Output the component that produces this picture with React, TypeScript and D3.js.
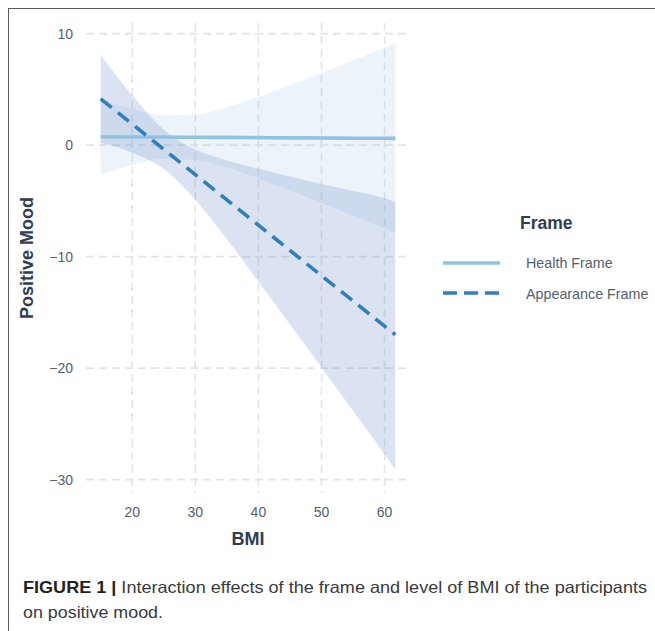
import React from "react";
import * as d3 from "d3";

const bmi = [15, 20, 25, 30, 35, 40, 45, 50, 55, 60, 61.7];

// Health Frame: fit and confidence band
const healthFit = [0.75, 0.73, 0.72, 0.7, 0.69, 0.67, 0.65, 0.64, 0.62, 0.61, 0.6];
const healthLow = [-2.65, -1.77, -1.23, -1.34, -2.02, -2.99, -4.07, -5.19, -6.34, -7.5, -7.91];
const healthHigh = [4.15, 3.23, 2.67, 2.74, 3.4, 4.33, 5.37, 6.47, 7.58, 8.72, 9.11];

// Appearance Frame: fit and confidence band
const appearFit = [4.15, 1.89, -0.38, -2.65, -4.91, -7.18, -9.44, -11.71, -13.97, -16.24, -17.0];
const appearLow = [0.2, -0.68, -2.14, -4.9, -8.45, -12.23, -16.06, -19.94, -23.83, -27.73, -29.1];
const appearHigh = [8.1, 4.46, 1.38, -0.4, -1.37, -2.13, -2.82, -3.48, -4.11, -4.75, -5.1];

const xTicks = [20, 30, 40, 50, 60];
const yTicks = [10, 0, -10, -20, -30];
const legendLabels = ["Health Frame", "Appearance Frame"];

const W = 655;
const H = 631;
const panel = { left: 86, right: 410, top: 23, bottom: 493 };

const font = "'Liberation Sans', Arial, Helvetica, sans-serif";
const tickColor = "#55606e";
const titleColor = "#2e3d52";
const healthColor = "#92c2e2";
const appearColor = "#2f7fbc";

const App = () => {
  const x = d3.scaleLinear().domain([12.67, 64.03]).range([panel.left, panel.right]);
  const y = d3.scaleLinear().domain([-31.2, 10.95]).range([panel.bottom, panel.top]);

  const idx = d3.range(bmi.length);

  const area = (lo: number[], hi: number[]) =>
    d3
      .area<number>()
      .x((i) => x(bmi[i]))
      .y0((i) => y(lo[i]))
      .y1((i) => y(hi[i]))
      .curve(d3.curveMonotoneX)(idx) as string;

  const line = (v: number[]) =>
    d3
      .line<number>()
      .x((i) => x(bmi[i]))
      .y((i) => y(v[i]))
      .curve(d3.curveMonotoneX)(idx) as string;

  const fmt = (v: number) => (v < 0 ? "\u2212" + Math.abs(v) : String(v));

  return (
    <svg
      width={W}
      height={H}
      style={{ position: "absolute", left: 0, top: 0, background: "#fff" }}
    >
      {/* outer frame, clipped at right and bottom */}
      <line x1={8} y1={8.5} x2={W} y2={8.5} stroke="#5a5a5a" strokeWidth={1} />
      <line x1={8.5} y1={8} x2={8.5} y2={H} stroke="#5a5a5a" strokeWidth={1} />

      {/* grid */}
      <g stroke="#e4e4e4" strokeWidth={1.6} strokeDasharray="8,5">
        {yTicks.map((t) => (
          <line key={"gy" + t} x1={panel.left} x2={panel.right} y1={y(t)} y2={y(t)} />
        ))}
        {xTicks.map((t) => (
          <line key={"gx" + t} x1={x(t)} x2={x(t)} y1={panel.top} y2={panel.bottom} />
        ))}
      </g>

      {/* ribbons */}
      <path d={area(healthLow, healthHigh)} fill="#9ecae1" fillOpacity={0.2} />
      <path d={area(appearLow, appearHigh)} fill="#6f8bcb" fillOpacity={0.25} />

      {/* fitted lines */}
      <path d={line(healthFit)} fill="none" stroke={healthColor} strokeWidth={3.6} />
      <path
        d={line(appearFit)}
        fill="none"
        stroke={appearColor}
        strokeWidth={3.6}
        strokeDasharray="14,8"
      />

      {/* y tick labels */}
      <g fontFamily={font} fontSize={14} fill={tickColor} textAnchor="end">
        {yTicks.map((t) => (
          <text key={"ty" + t} x={73} y={y(t) + 5}>
            {fmt(t)}
          </text>
        ))}
      </g>
      {/* x tick labels */}
      <g fontFamily={font} fontSize={14} fill={tickColor} textAnchor="middle">
        {xTicks.map((t) => (
          <text key={"tx" + t} x={x(t)} y={517}>
            {fmt(t)}
          </text>
        ))}
      </g>

      {/* axis titles */}
      <text
        x={(panel.left + panel.right) / 2}
        y={545}
        textAnchor="middle"
        fontFamily={font}
        fontWeight="bold"
        fontSize={18}
        fill={titleColor}
      >
        BMI
      </text>
      <text
        transform={`translate(33,${(panel.top + panel.bottom) / 2}) rotate(-90)`}
        textAnchor="middle"
        fontFamily={font}
        fontWeight="bold"
        fontSize={18}
        fill={titleColor}
      >
        Positive Mood
      </text>

      {/* legend */}
      <text x={520} y={229} fontFamily={font} fontWeight="bold" fontSize={17.5} fill={titleColor}>
        Frame
      </text>
      <line x1={443} x2={500} y1={263} y2={263} stroke={healthColor} strokeWidth={3.4} />
      <line
        x1={443}
        x2={500}
        y1={293}
        y2={293}
        stroke={appearColor}
        strokeWidth={3.4}
        strokeDasharray="14,7"
      />
      <g fontFamily={font} fontSize={14.3} fill={tickColor}>
        <text x={526} y={268}>
          {legendLabels[0]}
        </text>
        <text x={526} y={299}>
          {legendLabels[1]}
        </text>
      </g>

      {/* caption */}
      <text
        x={23}
        y={593}
        fontFamily={font}
        fontSize={16.5}
        fill="#3a3a3a"
        textLength={624}
        lengthAdjust="spacingAndGlyphs"
      >
        <tspan fontWeight="bold" fill="#231f20">
          FIGURE 1 |
        </tspan>
        <tspan> Interaction effects of the frame and level of BMI of the participants</tspan>
      </text>
      <text
        x={23}
        y={618}
        fontFamily={font}
        fontSize={16.5}
        fill="#3a3a3a"
        textLength={140}
        lengthAdjust="spacingAndGlyphs"
      >
        on positive mood.
      </text>
    </svg>
  );
};

export default App;
